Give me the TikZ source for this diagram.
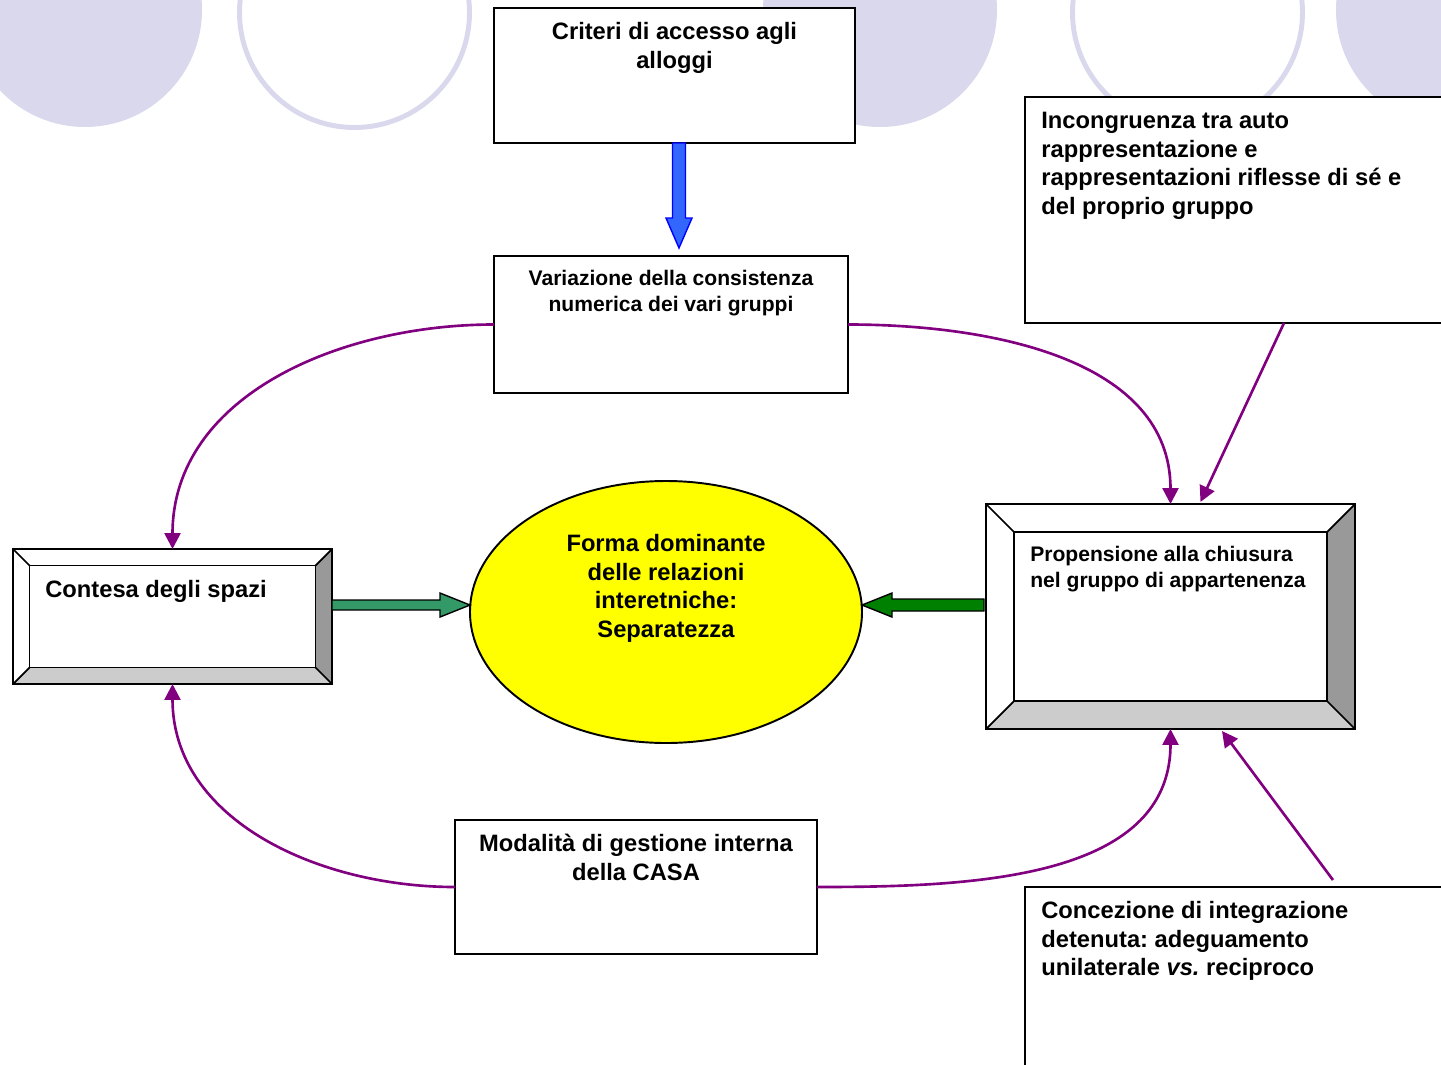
\documentclass[tikz,border=0pt]{standalone}
\usepackage{fontspec}
\setmainfont{Liberation Sans}
\frenchspacing
\usetikzlibrary{arrows.meta,positioning,shapes.geometric}
\definecolor{lavanda}{HTML}{D9D8EC}
\definecolor{viola}{HTML}{800080}
\definecolor{bluarrow}{HTML}{3366FF}
\definecolor{verdeacqua}{HTML}{339966}
\definecolor{verde}{HTML}{008000}
\definecolor{giallo}{HTML}{FFFF00}
\definecolor{bevR}{HTML}{999999}
\definecolor{bevB}{HTML}{CCCCCC}
\tikzset{
    box/.style={draw, line width=1.1pt, fill=white, inner sep=0pt, outer sep=0pt}, % riquadri
    txt/.style={inner sep=0pt, font=\fontsize{13.5}{16.3}\selectfont\bfseries},
    txtsmall/.style={inner sep=0pt, font=\fontsize{12}{14.7}\selectfont\bfseries},
    bevel/.style={draw, line width=1pt},
    link/.style={viola, line width=1.5pt, -{Triangle[length=9pt,width=9pt]}} % frecce viola
}
% cornice in rilievo: #1 nodo, #2 profondita
\newcommand\bevelbox[2]{%
    \fill[bevR] (#1.north east) -- (#1.south east) -- ([shift={(-#2,#2)}]#1.south east) -- ([shift={(-#2,-#2)}]#1.north east) -- cycle;
    \fill[bevB] (#1.south west) -- (#1.south east) -- ([shift={(-#2,#2)}]#1.south east) -- ([shift={(#2,#2)}]#1.south west) -- cycle;
    \draw[bevel] (#1.north west) -- ([shift={(#2,-#2)}]#1.north west)
        (#1.north east) -- ([shift={(-#2,-#2)}]#1.north east)
        (#1.south west) -- ([shift={(#2,#2)}]#1.south west)
        (#1.south east) -- ([shift={(-#2,#2)}]#1.south east);
    \draw[bevel] ([shift={(#2,-#2)}]#1.north west) rectangle ([shift={(-#2,#2)}]#1.south east);
    \draw[bevel] (#1.north west) rectangle (#1.south east);
}
% freccia piena: #1 stile, #2 partenza, #3 angolo, #4 lunghezza, #5 mezzo gambo, #6 mezza punta, #7 punta
\newcommand\blockarrow[7]{%
    \draw[#1, shift={(#2)}, rotate=#3] (0,-#5) -- (#4-#7,-#5) -- (#4-#7,-#6) -- (#4,0) -- (#4-#7,#6) -- (#4-#7,#5) -- (0,#5) -- cycle;
}

\begin{document}
\begin{tikzpicture}[x=0.02cm, y=0.02cm]
    \useasboundingbox (0,0) rectangle (1441,-1065);
    \clip (0,0) rectangle (1441,-1065);

    % cerchi di sfondo
    \fill[lavanda] (85,-10) circle[radius=117];
    \draw[lavanda, line width=2.8pt] (354.5,-12.5) circle[radius=115];
    \fill[lavanda] (880,-10) circle[radius=117];
    \draw[lavanda, line width=2.8pt] (1187.5,-12.5) circle[radius=115];
    \fill[lavanda] (1453,-10) circle[radius=117];

    \node[box, minimum width=361*0.02cm, minimum height=135*0.02cm] (crit) at (674.5,-75.5) {};
    \node[box, minimum width=354*0.02cm, minimum height=137*0.02cm] (var) at (671,-324.5) {};
    \node[box, minimum width=518*0.02cm, minimum height=226*0.02cm] (inc) at (1284,-210) {};
    \node[box, minimum width=319*0.02cm, minimum height=135*0.02cm] (cont) at (172.5,-616.5) {};
    \node[box, minimum width=369*0.02cm, minimum height=225*0.02cm] (prop) at (1170.5,-616.5) {};
    \node[box, minimum width=362*0.02cm, minimum height=134*0.02cm] (mod) at (636,-887) {};
    \node[box, minimum width=518*0.02cm, minimum height=230*0.02cm] (conc) at (1284,-1002) {};
    \node[ellipse, draw, fill=giallo, line width=1.1pt, inner sep=0pt, outer sep=0pt,
        minimum width=392*0.02cm, minimum height=262*0.02cm] (dom) at (666,-612) {};

    \bevelbox{cont}{16.5}
    \bevelbox{prop}{28}

    \node[txt, align=center, below=0.28cm of crit.north] (critT) {Criteri di accesso agli\\alloggi};
    \node[txtsmall, align=center, below=0.28cm of var.north] (varT) {Variazione della consistenza\\numerica dei vari gruppi};
    \node[txt, align=left, below right=0.3cm and 0.32cm of inc.north west] (incT) {Incongruenza tra auto\\rappresentazione e\\rappresentazioni riflesse di sé e\\del proprio gruppo};
    \node[txt, align=left, below right=0.62cm and 0.64cm of cont.north west] (contT) {Contesa degli spazi};
    \node[txt, align=center, below=1.06cm of dom.north] (domT) {Forma dominante\\delle relazioni\\interetniche:\\Separatezza};
    \node[txtsmall, align=left, below right=0.84cm and 0.88cm of prop.north west] (propT) {Propensione alla chiusura\\nel gruppo di appartenenza};
    \node[txt, align=center, below=0.28cm of mod.north] (modT) {Modalità di gestione interna\\della CASA};
    \node[txt, align=left, below right=0.28cm and 0.32cm of conc.north west] (concT) {Concezione di integrazione\\detenuta: adeguamento\\unilaterale \textit{vs.} reciproco};

    \blockarrow{draw=blue, fill=bluarrow, line width=0.8pt}{[xshift=0.09cm]crit.south}{-90}{105}{6.5}{13}{30}
    \blockarrow{draw=black, fill=verdeacqua, line width=0.8pt}{[yshift=0.23cm]cont.east}{0}{138}{5}{12}{30}
    \blockarrow{draw=black, fill=verde, line width=0.8pt}{[xshift=-0.04cm,yshift=0.23cm]prop.west}{180}{122}{6}{12}{30}

    \draw[link] (var.west) to[out=180, in=90] (cont.north);
    \draw[link] (var.east) to[out=0, in=90] (prop.north);
    \draw[link] (inc.south) -- ([xshift=0.6cm, yshift=0.04cm]prop.north);
    \draw[link] (mod.west) to[out=180, in=-90] (cont.south);
    \draw[link] (mod.east) to[out=0, in=-90] (prop.south);
    \draw[link] ([xshift=0.98cm, yshift=0.14cm]conc.north) -- ([xshift=1.03cm, yshift=-0.04cm]prop.south);
\end{tikzpicture}
\end{document}
